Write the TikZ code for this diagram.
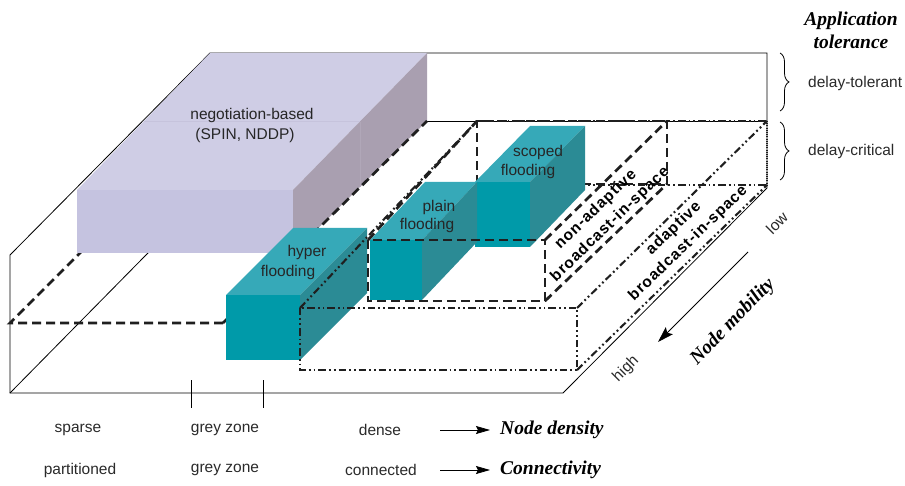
\documentclass[tikz,border=0pt]{standalone}
\usepackage{fontspec}
\setmainfont{Liberation Sans}
\newfontfamily\tnr{Liberation Serif}
\usetikzlibrary{arrows.meta,decorations.pathreplacing}

\definecolor{tealfront}{HTML}{009AA9}
\definecolor{tealtop}{HTML}{36A9B8}
\definecolor{tealside}{HTML}{2B8B95}
\definecolor{lavfront}{HTML}{C5C3E0}
\definecolor{lavtop}{HTML}{CFCDE5}
\definecolor{lavside}{HTML}{A99FB0}
\definecolor{lavseam}{HTML}{C6C3DC}
\definecolor{lavsideseam}{HTML}{B0A7B8}
\definecolor{inktext}{HTML}{2A2A2A}

\begin{document}
\begin{tikzpicture}[x=1pt,y=-1pt,
  thinline/.style={line width=0.8pt,black},
  nadash/.style={line width=2.7pt,black!88,dash pattern=on 9pt off 5pt},
  addash/.style={line width=2.1pt,black!88,dash pattern=on 7.5pt off 3pt on 1.8pt off 3pt on 1.8pt off 3pt},
  dotline/.style={line width=2.2pt,black!88,dash pattern=on 1.1pt off 1.1pt},
  lbl/.style={font=\fontsize{15.5}{18.5}\selectfont,inner sep=0pt,text=inktext},
  boxlbl/.style={lbl,text=black!85},
  slantlbl/.style={font=\fontsize{15.5}{20.5}\selectfont\bfseries\addfontfeatures{LetterSpace=6},
                   inner sep=0pt,align=center,rotate=44},
  bigit/.style={font=\fontsize{19.5}{22}\tnr\bfseries\itshape,inner sep=0pt},
  brc/.style={thinline,decorate,decoration={brace,amplitude=9pt}},
  arr/.style={thinline,-{Stealth[length=14pt,width=8pt,inset=2pt]}}
]
\useasboundingbox (0,0) rectangle (905,486);
\fill[white] (0,0) rectangle (905,486);

% ---------- outer frame of the design space ----------
\draw[thinline] (10,393) -- (212,188);              % floor, left edge
\draw[thinline] (10,255) -- (10,393) -- (563,393) -- (767,188)
                -- (767,53) -- (210,53) -- cycle;
\draw[thinline] (212,121) -- (767,121);             % delay-critical ceiling, back edge
\draw[nadash] (223,323) -- (10,323) -- (212,121);   % ceiling under the negotiation block

% ---------- back edges of the broadcast-in-space regions ----------
\draw[nadash] (477,184) -- (477,121) -- (667,121) -- (667,184) -- cycle;
\draw[addash] (477,121) -- (767,121);
\draw[addash] (477,185) -- (767,185);
\draw[dotline] (767,121) -- (767,185);

% ---------- negotiation-based block ----------
\fill[lavtop]   (77,190) -- (293,190) -- (427,53) -- (210,53) -- cycle;
\fill[lavfront] (77,190) rectangle (293,253);
\fill[lavside]  (293,190) -- (427,53) -- (427,121) -- (293,253) -- cycle;
\draw[lavseam,line width=0.6pt] (144,121) -- (360,121);
\draw[lavsideseam,line width=0.6pt] (360,122) -- (360,187);
\node[boxlbl] (neg1) at (252,115) {negotiation-based};
\node[boxlbl] (neg2) at (245,135) {(SPIN, NDDP)};

\draw[nadash] (223,323) -- (427,121);

% ---------- flooding blocks ----------
% scoped
\fill[tealtop]   (475,182) -- (530,182) -- (585,126) -- (530,126) -- cycle;
\fill[tealfront] (475,182) rectangle (530,247);
\fill[tealside]  (530,182) -- (585,126) -- (585,190) -- (530,247) -- cycle;
% plain
\fill[tealtop]   (370,240) -- (422,240) -- (477,182) -- (425,182) -- cycle;
\fill[tealfront] (370,240) rectangle (422,300);
\fill[tealside]  (422,240) -- (477,182) -- (477,242) -- (422,300) -- cycle;
% hyper
\fill[tealtop]   (226,295) -- (300,295) -- (367,228) -- (293,228) -- cycle;
\fill[tealfront] (226,295) rectangle (300,360);
\fill[tealside]  (300,295) -- (367,228) -- (367,293) -- (300,360) -- cycle;

\node[boxlbl] (sc1) at (538,152) {scoped};
\node[boxlbl] (sc2) at (528,171) {flooding};
\node[boxlbl] (pl1) at (439,207) {plain};
\node[boxlbl] (pl2) at (427,225) {flooding};
\node[boxlbl] (hy1) at (307,252) {hyper};
\node[boxlbl] (hy2) at (288,272) {flooding};

% ---------- front edges of the broadcast-in-space regions ----------
\draw[nadash] (368,240) rectangle (545,301);
\draw[nadash] (368,240) -- (477,121);
\draw[nadash] (545,240) -- (667,121);
\draw[nadash] (545,301) -- (667,184);

\draw[addash] (300,308) rectangle (577,370);
\draw[addash] (300,308) -- (477,121);
\draw[addash] (577,308) -- (767,121);
\draw[addash] (577,370) -- (767,185);

\node[slantlbl] (nonad) at (603,217) {non-adaptive\\broadcast-in-space};
\node[slantlbl] (adapt) at (681,236) {adaptive\\broadcast-in-space};

% ---------- node mobility axis ----------
\node[lbl,rotate=45] (low)  at (777,223) {low};
\node[lbl,rotate=45] (high) at (626,369) {high};
\coordinate (mobS) at (748,252);
\coordinate (mobE) at (658,342);
\draw[thinline,-{Stealth[length=16pt,width=10pt,inset=3pt]}] (mobS) -- (mobE);
\node[bigit,rotate=46] (nmob) at (733,322) {Node mobility};

% ---------- application tolerance ----------
\node[bigit,align=center,font=\fontsize{19.5}{23}\tnr\bfseries\itshape] (apptol) at (851,30) {Application\\tolerance};
\draw[brc] (780,53) -- (780,111);
\draw[brc] (780,122) -- (780,180);
\node[lbl,anchor=west] (dtol)  at (808,83)  {delay-tolerant};
\node[lbl,anchor=west] (dcrit) at (808,151) {delay-critical};

% ---------- node density / connectivity axis ----------
\draw[thinline] (191,380) -- (191,408);
\draw[thinline] (263,380) -- (263,408);

\node[lbl] (sparse) at (78,430)  {sparse};
\node[lbl] (grey1)  at (225,430) {grey zone};
\node[lbl] (dense)  at (380,430) {dense};
\node[bigit,anchor=west] (ndens) at (500,430) {Node density};
\coordinate (dArr) at (440,430);
\draw[arr] (dArr) -- (ndens.west -| 490,0);

\node[lbl] (part)  at (80,470)  {partitioned};
\node[lbl] (grey2) at (225,470) {grey zone};
\node[lbl] (conn)  at (381,470) {connected};
\node[bigit,anchor=west] (cty) at (500,470) {Connectivity};
\coordinate (cArr) at (440,470);
\draw[arr] (cArr) -- (cty.west -| 490,0);
\end{tikzpicture}
\end{document}
